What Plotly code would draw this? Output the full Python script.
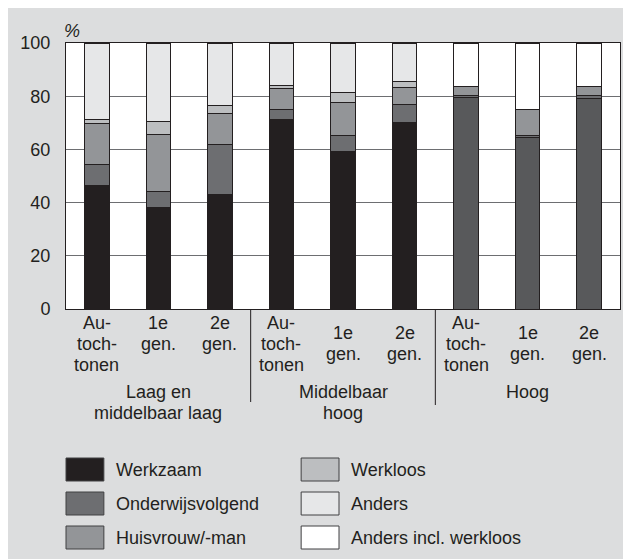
import plotly.graph_objects as go

# categories
groups = ['Laag en<br>middelbaar laag', 'Middelbaar<br>hoog', 'Hoog']
subgroups = ['Au-<br>toch-<br>tonen', '1e<br>gen.', '2e<br>gen.']
cats = [g + '|' + s for g in ['laag', 'midd', 'hoog'] for s in ['auto', 'gen1', 'gen2']]

# series (share in %), bottom to top
werkzaam = [46.5, 38.0, 43.1, 71.3, 59.4, 70.1, 79.6, 64.5, 79.2]
onderwijs = [7.8, 6.0, 18.8, 3.8, 6.0, 6.9, 0.5, 0.9, 0.9]
huisvrouw = [15.4, 21.7, 11.7, 7.7, 12.1, 6.3, 3.7, 9.7, 3.7]
werkloos = [1.6, 4.7, 2.8, 1.2, 4.0, 2.1, None, None, None]
anders = [28.7, 29.6, 23.6, 16.0, 18.5, 14.6, None, None, None]
anders_incl = [None, None, None, None, None, None, 16.2, 24.9, 16.2]

names = ['Werkzaam', 'Onderwijsvolgend', 'Huisvrouw/-man',
         'Werkloos', 'Anders', 'Anders incl. werkloos']
colors = ['#231f20', '#6d6e71', '#939598', '#bcbec0', '#e6e7e8', '#ffffff']
series = [werkzaam, onderwijs, huisvrouw, werkloos, anders, anders_incl]

W, H = 631, 559
OFF = 8  # page margin of the html body
ML, MR, MT, MB = 56, 19, 35, 258
PW, PH = W - ML - MR, H - MT - MB
FONT = 'Liberation Sans, Arial, sans-serif'
TXT = '#231f20'
BOTTOM = OFF + H - MB  # screen y of the x axis


def px(x):
    return (x - OFF - ML) / PW


def py(y):
    return (BOTTOM - y) / PH


fig = go.Figure()
for i, (name, vals) in enumerate(zip(names, series)):
    col = colors[i]
    if i == 0:
        # the bars of the Hoog group are printed a shade lighter
        col = [colors[0]] * 6 + ['#58595b'] * 3
    fig.add_trace(go.Bar(
        x=cats, y=vals, name=name, width=0.4,
        marker=dict(color=col, line=dict(color='#231f20', width=1)),
        showlegend=False,
    ))

fig.update_layout(
    width=W, height=H,
    barmode='stack',
    margin=dict(l=ML, r=MR, t=MT, b=MB),
    paper_bgcolor='#dcddde',
    plot_bgcolor='#ffffff',
    font=dict(family=FONT, size=18, color=TXT),
    xaxis=dict(type='category', showticklabels=False, showgrid=False,
               showline=True, linecolor='#231f20', linewidth=1, mirror=True,
               range=[-0.5, 8.5]),
    yaxis=dict(range=[0, 100], dtick=20, showgrid=True, gridcolor='#6d6e71',
               gridwidth=1, showline=True, linecolor='#231f20', linewidth=1,
               mirror=True, ticks='', ticklabelstandoff=11, zeroline=False,
               tickfont=dict(size=18)),
)

annotations = []
shapes = []

# x labels
line_h = 21
for gi in range(3):
    for si in range(3):
        k = gi * 3 + si
        lines = subgroups[si].split('<br>')
        start = 323
        if si > 0 and gi > 0:
            start = 333
        for li, t in enumerate(lines):
            annotations.append(dict(
                x=cats[k], xref='x', y=0, yref='paper', text=t,
                showarrow=False, yanchor='middle', xanchor='center',
                yshift=-(start + li * line_h - BOTTOM),
            ))
    for li, t in enumerate(groups[gi].split('<br>')):
        annotations.append(dict(
            x=cats[gi * 3 + 1], xref='x', y=0, yref='paper', text=t,
            showarrow=False, yanchor='middle', xanchor='center',
            yshift=-(392 + li * line_h - BOTTOM),
        ))

# group separators
for xs, ybot in [(2.5, 402), (5.5, 405)]:
    shapes.append(dict(type='line', xref='x', yref='paper', x0=xs, x1=xs,
                       y0=0, y1=py(ybot),
                       line=dict(color='#231f20', width=1)))

# % label
annotations.append(dict(x=px(70), y=py(31), xref='paper', yref='paper',
                        text='<i>%</i>', showarrow=False, xanchor='center',
                        yanchor='middle'))

# legend
for i, name in enumerate(names):
    col_x = 64 if i < 3 else 300
    top = 458 + (i % 3) * 34
    shapes.append(dict(type='rect', xref='paper', yref='paper',
                       x0=px(col_x), x1=px(col_x + 38),
                       y0=py(top), y1=py(top + 23),
                       fillcolor=colors[i],
                       line=dict(color='#414042', width=1)))
    annotations.append(dict(x=px(col_x + 48), y=py(top + 12), xref='paper',
                            yref='paper', text=name, showarrow=False,
                            xanchor='left', yanchor='middle'))

fig.update_layout(annotations=annotations, shapes=shapes)
fig.write_html('out.html')
